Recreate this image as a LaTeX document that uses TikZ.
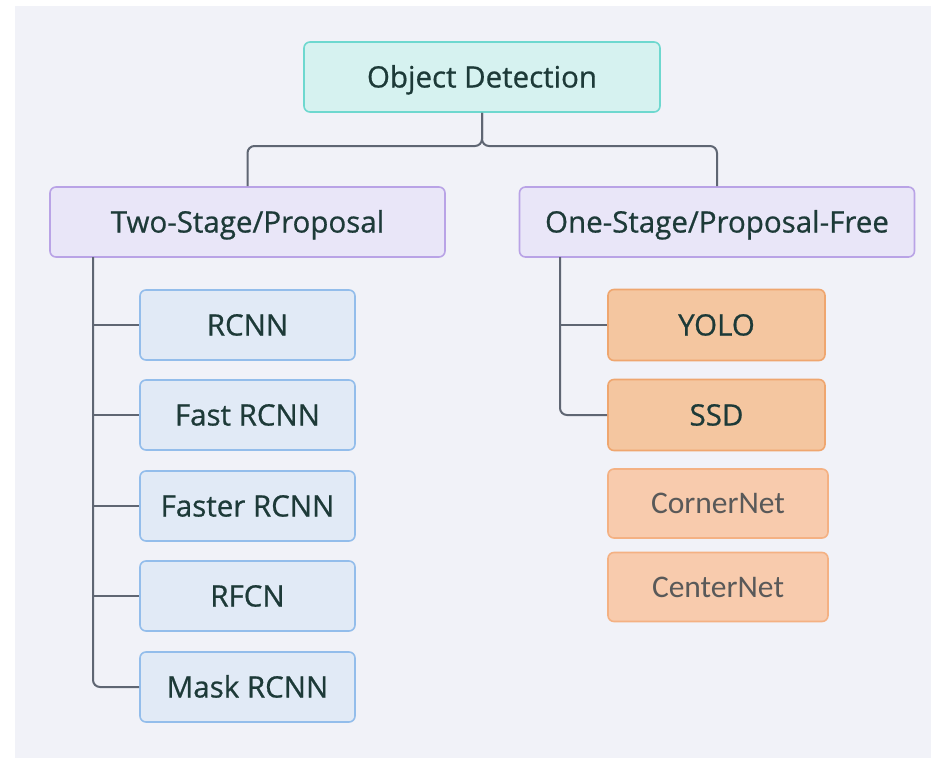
\documentclass[tikz,border=0pt]{standalone}
\usepackage{fontspec}
\setmainfont{Open Sans}[FakeBold=0.7]
\newfontfamily\calfont{Carlito}
\usetikzlibrary{positioning}
\definecolor{bgcol}{HTML}{F1F2F8}
\definecolor{txtcol}{HTML}{1D3A38}
\definecolor{linkcol}{HTML}{5F6673}
\definecolor{rootfill}{HTML}{D6F2F0}
\definecolor{rootline}{HTML}{6ED8CF}
\definecolor{stagefill}{HTML}{E9E6F8}
\definecolor{stageline}{HTML}{B9A3E6}
\definecolor{twofill}{HTML}{E1EAF6}
\definecolor{twoline}{HTML}{93BDEB}
\definecolor{onefill}{HTML}{F4C6A0}
\definecolor{oneline}{HTML}{EFA66F}
\definecolor{kpfill}{HTML}{F8CBAD}
\definecolor{kpline}{HTML}{F4B183}
\tikzset{
  box/.style={draw, line width=1.6pt, rounded corners=6pt, text=txtcol,
    font=\addfontfeature{FakeBold=0.7}\fontsize{29.5}{34}\selectfont, inner sep=0pt,
    text height=21pt, text depth=0pt},
  rootbox/.style={box, fill=rootfill, draw=rootline, minimum width=356pt, minimum height=70pt},
  stagebox/.style={box, fill=stagefill, draw=stageline, minimum width=395pt, minimum height=70pt},
  twobox/.style={box, fill=twofill, draw=twoline, minimum width=215pt, minimum height=70pt},
  onebox/.style={box, fill=onefill, draw=oneline, minimum width=217pt, minimum height=71pt},
  kpbox/.style={box, fill=kpfill, draw=kpline, minimum width=220pt, minimum height=69pt,
    text=black!65, font=\calfont\fontsize{31.5}{36}\selectfont, text height=20pt},
  link/.style={draw=linkcol, line width=2pt, rounded corners=7pt},
}
\begin{document}
\begin{tikzpicture}[x=1pt,y=-1pt]
\useasboundingbox (0,0) rectangle (931,758);
\fill[bgcol] (15,6) rectangle (931,758);
% root and the two families
\node[rootbox] (od) at (482,77) {Object Detection};
\node[stagebox] (two) at (247.5,222) {Two-Stage/Proposal};
\node[stagebox] (one) at (717,222) {One-Stage/Proposal-Free};
% two-stage detectors
\node[twobox] (rcnn) at (247.5,325) {RCNN};
\node[twobox] (fast) at (247.5,415) {Fast RCNN};
\node[twobox] (faster) at (247.5,506) {Faster RCNN};
\node[twobox] (rfcn) at (247.5,596) {RFCN};
\node[twobox] (mask) at (247.5,687) {Mask RCNN};
% one-stage detectors
\node[onebox] (yolo) at (716.5,325) {YOLO};
\node[onebox] (ssd) at (716.5,415) {SSD};
\node[kpbox] (corner) at (718,503.5) {CornerNet};
\node[kpbox] (center) at (718,587) {CenterNet};
% tree lines
\coordinate (split) at (482,146);
\coordinate (lt) at (93,257);
\coordinate (rt) at (560,257);
\draw[link] (od.south) -- (split) -| (two.north);
\draw[link] (od.south) -- (split) -| (one.north);
\foreach \n in {rcnn,fast,faster,rfcn}
  \draw[link] (lt |- \n.west) -- (\n.west);
\draw[link] (lt) |- (mask.west);
\draw[link] (rt |- yolo.west) -- (yolo.west);
\draw[link] (rt) |- (ssd.west);
\end{tikzpicture}
\end{document}
